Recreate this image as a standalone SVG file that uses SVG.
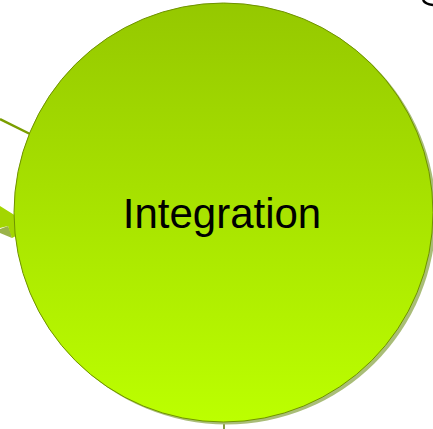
<svg xmlns="http://www.w3.org/2000/svg" width="433" height="429" viewBox="0 0 433 429">
<defs>
<linearGradient id="g" x1="0" y1="0" x2="0" y2="1">
<stop offset="0" stop-color="#95c800"/>
<stop offset="1" stop-color="#bcff00"/>
</linearGradient>
<style>
.conn{stroke:#7a9e00;stroke-width:2.5;fill:none}
.lbl{font-family:"Liberation Sans",Arial,sans-serif;font-size:42px;fill:#000}
</style>
</defs>
<g id="connectors">
<line class="conn" x1="0" y1="119" x2="30" y2="134"/>
<polygon points="0,229 8,226 11,233 12,238 0,233" fill="#9ab34a"/>
<polygon points="0,206 16,216 16,236 12,238 8,226 0,228" fill="#a3d600"/>
<line x1="224" y1="421" x2="224" y2="429" stroke="#5f7a00" stroke-width="1.5"/>
<path d="M423,0 Q425,4 433,5" stroke="#000" stroke-width="2.5" fill="none"/>
</g>
<g id="integration">
<circle cx="226.5" cy="215" r="209.5" fill="#a9bd78"/>
<circle cx="223.5" cy="212.5" r="209.5" fill="url(#g)" stroke="#6f9200" stroke-width="1"/>
<text class="lbl" x="222" y="228" text-anchor="middle">Integration</text>
</g>
</svg>
